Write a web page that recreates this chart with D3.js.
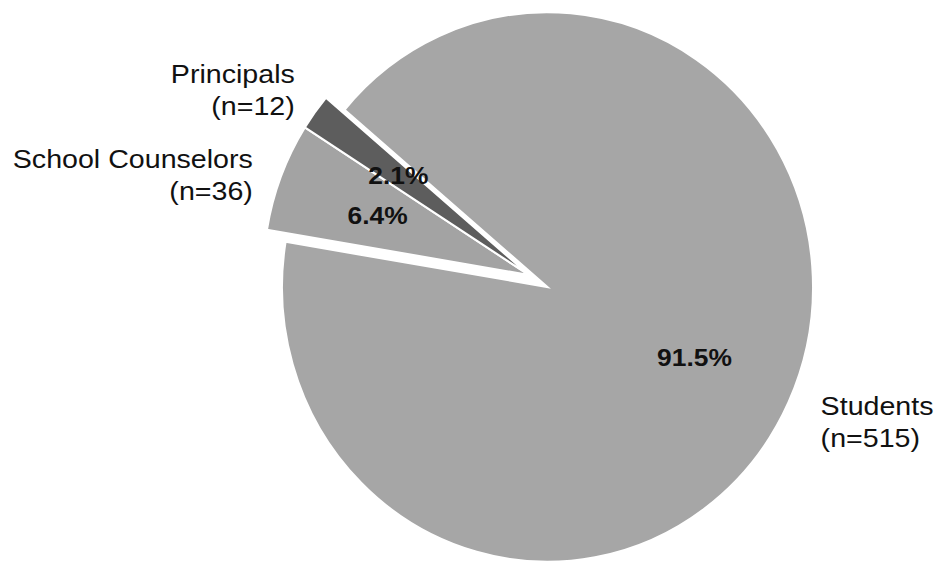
<!DOCTYPE html>
<html>
<head>
<meta charset="utf-8">
<script src="https://cdn.jsdelivr.net/npm/d3@7"></script>
<style>
  html, body { margin: 0; padding: 0; background: #fff; }
  svg { display: block; }
  text { font-family: "Liberation Sans", Arial, Helvetica, sans-serif; fill: #111; }
</style>
</head>
<body>
<svg id="chart" width="938" height="564"></svg>
<script>
// Survey respondents by group
const categories = ["Students", "School Counselors", "Principals"];
const counts = [515, 36, 12];
const sliceColors = ["#a6a6a6", "#a3a3a3", "#5d5d5d"];
const pulledOut = [false, true, true];   // the two staff groups are pulled out together

// Layout
const width = 938, height = 564;
const cx = 547.5, cy = 287;              // pie centre
const radius = 265.5, yStretch = 1.035;  // pie is drawn slightly taller than wide
const startDeg = -49.85;                 // where the first slice begins (clockwise from 12 o'clock)
const pullDeg = -58, pullDist = 22;      // direction and distance of the pulled-out slices
const pctRadius = 0.61, nameRadius = 1.1;
const nameNudge = [[8, 8], [-3.3, 8.2], [1.3, -6.3]];
const nameSize = 26, pctSize = 24, lineH = 32, textStretch = 1.1;

const svg = d3.select("#chart");
const total = d3.sum(counts);
const pct = d3.format(".1%");

const rows = categories.map((name, i) => ({
  name, n: counts[i], color: sliceColors[i], pulled: pulledOut[i], nudge: nameNudge[i]
}));

const rad = deg => deg * Math.PI / 180;
const a0 = rad(startDeg);
const pie = d3.pie().sort(null).value(d => d.n).startAngle(a0).endAngle(a0 + 2 * Math.PI);
const arcs = pie(rows);
const arc = d3.arc().innerRadius(0).outerRadius(radius);

const mid = a => (a.startAngle + a.endAngle) / 2;
// d3 angle convention: 0 at 12 o'clock, increasing clockwise
const polar = (ang, r) => [Math.sin(ang) * r, -Math.cos(ang) * r * yStretch];
const origin = d => d.data.pulled ? polar(rad(pullDeg), pullDist) : [0, 0];

const g = svg.append("g").attr("transform", `translate(${cx},${cy})`);

// Slices
g.selectAll("path.slice").data(arcs).join("path")
  .attr("class", "slice")
  .attr("transform", d => { const [dx, dy] = origin(d); return `translate(${dx},${dy}) scale(1,${yStretch})`; })
  .attr("d", arc)
  .attr("fill", d => d.data.color)
  .attr("stroke", "#fff")
  .attr("stroke-width", 2)
  .attr("stroke-linejoin", "miter");

// Percentage labels inside the slices
g.selectAll("text.pct").data(arcs).join("text")
  .attr("class", "pct")
  .attr("transform", d => {
    const [ox, oy] = origin(d);
    const [px, py] = polar(mid(d), radius * pctRadius);
    return `translate(${ox + px},${oy + py}) scale(${textStretch},1)`;
  })
  .attr("text-anchor", "middle")
  .attr("dy", "0.36em")
  .style("font-size", pctSize + "px")
  .style("font-weight", "bold")
  .text(d => pct(d.data.n / total));

// Group names with counts outside the pie
const names = g.selectAll("g.name").data(arcs).join("g")
  .attr("class", "name")
  .attr("transform", d => {
    const [ox, oy] = origin(d);
    const [px, py] = polar(mid(d), radius * nameRadius);
    return `translate(${ox + px + d.data.nudge[0]},${oy + py + d.data.nudge[1]})`;
  });

names.each(function(d) {
  const anchor = Math.sin(mid(d)) < 0 ? "end" : "start";
  const lines = [d.data.name, `(n=${d.data.n})`];
  d3.select(this).selectAll("text").data(lines).join("text")
    .attr("transform", (t, i) => `translate(0,${(i - 0.5) * lineH}) scale(${textStretch},1)`)
    .attr("text-anchor", anchor)
    .attr("dy", "0.36em")
    .style("font-size", nameSize + "px")
    .text(t => t);
});
</script>
</body>
</html>
